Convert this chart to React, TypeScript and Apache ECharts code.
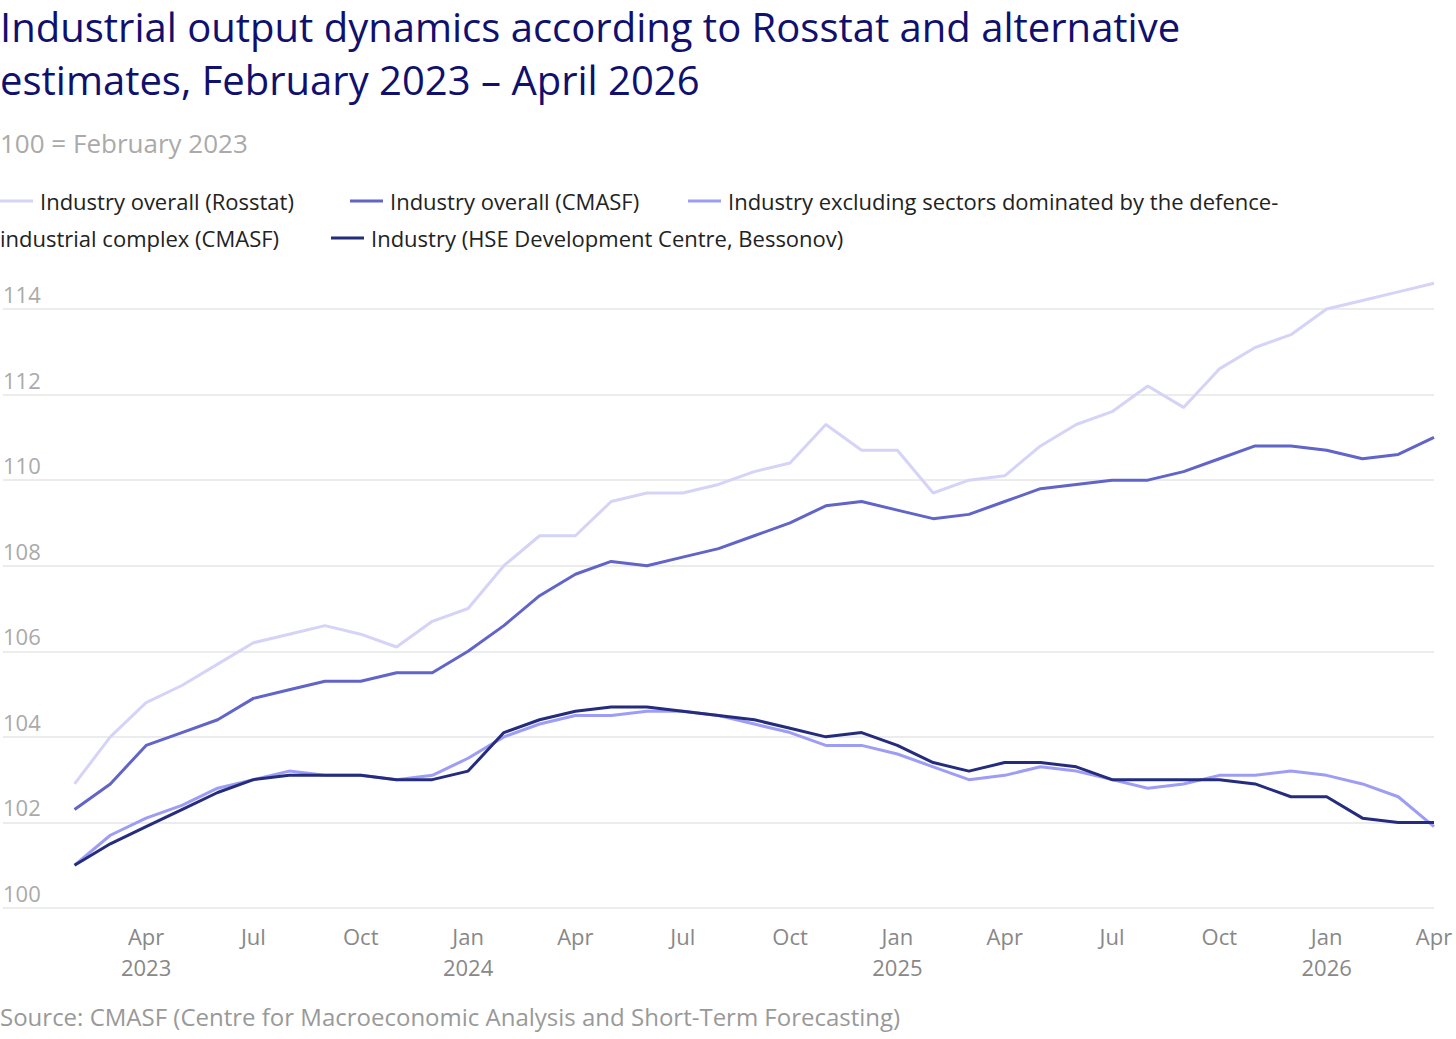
import * as echarts from "echarts";
import { useEffect, useRef } from "react";

const months = [
  "Feb 2023", "Mar 2023", "Apr 2023", "May 2023", "Jun 2023", "Jul 2023", "Aug 2023", "Sep 2023", "Oct 2023", "Nov 2023", "Dec 2023",
  "Jan 2024", "Feb 2024", "Mar 2024", "Apr 2024", "May 2024", "Jun 2024", "Jul 2024", "Aug 2024", "Sep 2024", "Oct 2024", "Nov 2024", "Dec 2024",
  "Jan 2025", "Feb 2025", "Mar 2025", "Apr 2025", "May 2025", "Jun 2025", "Jul 2025", "Aug 2025", "Sep 2025", "Oct 2025", "Nov 2025", "Dec 2025",
  "Jan 2026", "Feb 2026", "Mar 2026", "Apr 2026",
];
// two empty months before the data so the plot starts where the reference does
const padMonths = ["Dec 2022", "Jan 2023"];

const rosstat = [
  102.9, 104.0, 104.8, 105.2, 105.7, 106.2, 106.4, 106.6, 106.4, 106.1, 106.7,
  107.0, 108.0, 108.7, 108.7, 109.5, 109.7, 109.7, 109.9, 110.2, 110.4, 111.3, 110.7,
  110.7, 109.7, 110.0, 110.1, 110.8, 111.3, 111.6, 112.2, 111.7, 112.6, 113.1, 113.4,
  114.0, 114.2, 114.4, 114.6,
];
const cmasf = [
  102.3, 102.9, 103.8, 104.1, 104.4, 104.9, 105.1, 105.3, 105.3, 105.5, 105.5,
  106.0, 106.6, 107.3, 107.8, 108.1, 108.0, 108.2, 108.4, 108.7, 109.0, 109.4, 109.5,
  109.3, 109.1, 109.2, 109.5, 109.8, 109.9, 110.0, 110.0, 110.2, 110.5, 110.8, 110.8,
  110.7, 110.5, 110.6, 111.0,
];
const exDefence = [
  101.0, 101.7, 102.1, 102.4, 102.8, 103.0, 103.2, 103.1, 103.1, 103.0, 103.1,
  103.5, 104.0, 104.3, 104.5, 104.5, 104.6, 104.6, 104.5, 104.3, 104.1, 103.8, 103.8,
  103.6, 103.3, 103.0, 103.1, 103.3, 103.2, 103.0, 102.8, 102.9, 103.1, 103.1, 103.2,
  103.1, 102.9, 102.6, 101.9,
];
const hse = [
  101.0, 101.5, 101.9, 102.3, 102.7, 103.0, 103.1, 103.1, 103.1, 103.0, 103.0,
  103.2, 104.1, 104.4, 104.6, 104.7, 104.7, 104.6, 104.5, 104.4, 104.2, 104.0, 104.1,
  103.8, 103.4, 103.2, 103.4, 103.4, 103.3, 103.0, 103.0, 103.0, 103.0, 102.9, 102.6,
  102.6, 102.1, 102.0, 102.0,
];

const seriesNames = [
  "Industry overall (Rosstat)",
  "Industry overall (CMASF)",
  "Industry excluding sectors dominated by the defence-industrial complex (CMASF)",
  "Industry (HSE Development Centre, Bessonov)",
];
const colors = ["#d5d3f7", "#6164c8", "#9d9df5", "#252c7d"];

const FONT = "'Open Sans', Inter, sans-serif";

const monthLabel = (v: string) => {
  const [m, y] = v.split(" ");
  const short = m.slice(0, 3);
  return short === "Jan" || v === "Apr 2023" ? short + "\n" + y : short;
};

const legendItem = (x: number, y: number, color: string, text: string) => [
  { type: "line", shape: { x1: x, y1: y, x2: x + 33, y2: y }, style: { stroke: color, lineWidth: 3 } },
  {
    type: "text",
    x: x + 40,
    y,
    style: { text, fontSize: 22, fontFamily: FONT, fill: "#222", verticalAlign: "middle" },
  },
];

export default function App() {
  const ref = useRef<HTMLDivElement | null>(null);

  useEffect(() => {
    document.body.style.margin = "0";
    if (!ref.current) return;
    const chart = echarts.init(ref.current, undefined, { renderer: "svg" });
    const cats = [...padMonths, ...months];
    const pad = (arr: number[]) => [null, null, ...arr];
    const all = [rosstat, cmasf, exDefence, hse];

    chart.setOption({
      animation: false,
      textStyle: { fontFamily: FONT },
      grid: { left: 0, right: 22, top: 309, bottom: 131 },
      xAxis: {
        type: "category",
        data: cats,
        boundaryGap: false,
        axisLine: { show: false },
        axisTick: { show: false },
        axisLabel: {
          interval: (i: number) => i >= 4 && i % 3 === 1,
          formatter: monthLabel,
          fontSize: 22,
          color: "#888",
          lineHeight: 31,
          margin: 12,
          showMaxLabel: true,
        },
      },
      yAxis: {
        type: "value",
        min: 100,
        max: 114,
        interval: 2,
        axisLabel: {
          inside: true,
          margin: 0,
          verticalAlign: "bottom",
          fontSize: 22,
          color: "#aaa",
          padding: [0, 0, 4, 0],
        },
        splitLine: { lineStyle: { color: "#e6e6e6", width: 1.5 } },
      },
      series: all.map((d, i) => ({
        name: seriesNames[i],
        type: "line",
        data: pad(d),
        symbol: "none",
        clip: false,
        z: 2 + i,
        lineStyle: { color: colors[i], width: 3 },
      })),
      graphic: [
        {
          type: "text",
          left: 0,
          top: 0,
          style: {
            text: "Industrial output dynamics according to Rosstat and alternative\nestimates, February 2023 – April 2026",
            fontSize: 40,
            lineHeight: 53,
            fontFamily: FONT,
            fill: "#10106e",
          },
        },
        {
          type: "text",
          left: 0,
          top: 130,
          style: { text: "100 = February 2023", fontSize: 26, fontFamily: FONT, fill: "#aaa" },
        },
        ...legendItem(0, 201, colors[0], "Industry overall (Rosstat)"),
        ...legendItem(350, 201, colors[1], "Industry overall (CMASF)"),
        ...legendItem(688, 201, colors[2], "Industry excluding sectors dominated by the defence-"),
        {
          type: "text",
          x: 0,
          y: 238,
          style: { text: "industrial complex (CMASF)", fontSize: 22, fontFamily: FONT, fill: "#222", verticalAlign: "middle" },
        },
        ...legendItem(331, 238, colors[3], "Industry (HSE Development Centre, Bessonov)"),
        {
          type: "text",
          left: 0,
          top: 1004,
          style: {
            text: "Source: CMASF (Centre for Macroeconomic Analysis and Short-Term Forecasting)",
            fontSize: 24,
            fontFamily: FONT,
            fill: "#999",
          },
        },
      ],
    });
    return () => chart.dispose();
  }, []);

  return <div ref={ref} style={{ width: 1456, height: 1039 }} />;
}
